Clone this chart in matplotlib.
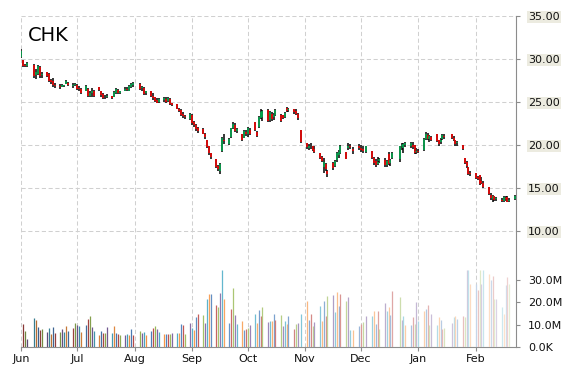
import matplotlib
matplotlib.use('Agg')
import matplotlib.pyplot as plt
import matplotlib.dates as mdates
from matplotlib.colors import to_rgb
import numpy as np
import pandas as pd

symbol = 'CHK'

# trading days without a record in the source data
missing_days = ['2015-06-05', '2015-08-03', '2015-10-29', '2015-11-26',
                '2015-12-03', '2015-12-21', '2016-01-18']

# one row per week
opens = [
    30.2, 29.8, 29.3, 29.1,
    29.3, 28.1, 28.2, 29.0, 28.1,
    28.5, 28.2, 27.5, 27.4, 26.9,
    26.8, 26.7, 26.8, 27.1, 27.2,
    26.8, 27.0, 27.0, 26.6, 26.5,
    26.3, 26.5, 25.7, 26.0, 26.3,
    26.7, 26.2, 25.9, 25.5, 25.6,
    25.7, 25.6, 26.0, 26.4, 26.0,
    26.3, 26.5, 26.3, 26.7, 27.0,
    27.1, 26.6, 26.6, 26.0,
    26.2, 25.7, 25.5, 25.2, 25.0,
    25.2, 25.3, 25.1, 25.3, 24.8,
    24.7, 24.2, 24.0, 23.6, 23.3,
    23.0, 23.5, 22.6, 22.3, 21.9,
    21.8, 21.3, 20.6, 19.8, 19.0,
    18.3, 17.5, 17.0, 19.3, 20.6,
    20.1, 20.9, 22.0, 22.3, 21.6,
    21.2, 20.8, 21.5, 21.3, 21.7,
    22.6, 21.5, 22.1, 23.1, 23.2,
    24.0, 22.9, 23.6, 23.2, 23.5,
    23.5, 23.5, 23.2, 24.3, 24.0,
    24.1, 23.9, 23.6, 21.7,
    20.2, 19.6, 19.9, 19.8, 19.5,
    19.0, 18.6, 17.4, 17.8, 17.0,
    17.9, 17.5, 18.2, 18.8, 19.1,
    19.2, 19.6, 19.9, 19.5,
    19.8, 19.6, 19.5, 19.2,
    19.3, 18.5, 18.1, 17.8, 18.1,
    18.2, 17.6, 18.9, 17.9, 18.5,
    18.4, 19.8, 19.6, 20.0,
    19.9, 20.0, 20.0, 19.2, 19.3,
    19.4, 20.7, 21.1, 20.7, 20.9,
    21.2, 20.5, 20.3, 20.7, 21.0,
    21.2, 20.8, 20.5, 20.2,
    20.0, 18.5, 18.0, 17.4, 16.7,
    16.7, 16.2, 16.5, 15.8, 15.6,
    15.1, 14.2, 13.7, 14.0, 13.7,
    13.6, 13.5, 13.8, 13.9, 13.5,
    13.7,
]
highs = [
    31.1, 29.9, 29.4, 29.6,
    29.4, 28.8, 29.3, 29.1, 28.4,
    28.5, 28.3, 27.7, 27.8, 27.2,
    27.1, 27.1, 27.0, 27.5, 27.3,
    27.2, 27.2, 27.1, 26.8, 26.6,
    26.9, 26.6, 26.2, 26.6, 26.4,
    26.7, 26.3, 26.0, 25.8, 25.9,
    25.7, 26.2, 26.6, 26.5, 26.3,
    26.7, 26.7, 26.9, 27.2, 27.3,
    27.2, 26.8, 26.7, 26.3,
    26.2, 26.0, 25.5, 25.4, 25.4,
    25.5, 25.5, 25.5, 25.4, 24.9,
    24.7, 24.3, 24.1, 23.8, 23.5,
    23.7, 23.6, 22.8, 22.4, 22.1,
    21.9, 21.4, 20.6, 19.9, 19.1,
    18.3, 17.7, 17.9, 20.9, 21.2,
    20.8, 22.0, 22.6, 22.5, 21.9,
    21.2, 21.7, 21.7, 22.1, 21.9,
    22.7, 21.6, 23.3, 24.1, 24.0,
    24.1, 23.9, 23.8, 23.7, 24.1,
    23.6, 23.5, 23.8, 24.4, 24.3,
    24.2, 24.1, 23.7, 21.7,
    20.2, 20.1, 20.2, 19.9, 19.8,
    19.0, 18.7, 18.5, 17.9, 17.1,
    18.0, 18.2, 19.2, 19.4, 20.0,
    19.2, 20.2, 20.1, 19.7,
    20.1, 20.0, 19.8, 19.9,
    19.3, 18.6, 18.3, 18.6, 18.5,
    18.5, 18.2, 19.2, 18.4, 19.2,
    19.9, 20.2, 20.2, 20.3,
    20.3, 20.3, 20.0, 19.6, 19.5,
    20.8, 21.5, 21.4, 21.1, 21.0,
    21.3, 20.6, 20.8, 21.2, 21.2,
    21.3, 21.0, 20.6, 20.4,
    20.0, 18.5, 18.1, 17.4, 16.9,
    16.7, 16.4, 16.5, 16.3, 15.8,
    15.1, 14.4, 14.2, 14.1, 13.9,
    13.8, 14.0, 14.0, 14.0, 13.8,
    14.2,
]
lows = [
    30.1, 29.0, 29.0, 29.0,
    27.8, 27.6, 28.1, 27.8, 27.8,
    27.9, 27.3, 27.1, 26.7, 26.6,
    26.5, 26.7, 26.7, 27.1, 26.8,
    26.6, 26.8, 26.4, 26.3, 25.9,
    26.2, 25.5, 25.5, 25.6, 25.6,
    26.3, 25.6, 25.3, 25.3, 25.4,
    25.3, 25.6, 25.9, 25.9, 25.9,
    26.2, 26.2, 26.2, 26.6, 26.7,
    26.4, 26.2, 25.8, 25.8,
    25.6, 25.2, 25.0, 24.8, 24.9,
    25.0, 24.9, 25.0, 24.6, 24.5,
    24.1, 23.8, 23.4, 23.1, 23.0,
    22.9, 22.3, 22.1, 21.6, 21.4,
    21.2, 20.7, 19.6, 18.8, 18.4,
    17.3, 17.0, 16.6, 19.2, 20.1,
    20.0, 20.8, 21.8, 21.5, 21.4,
    20.4, 20.8, 21.0, 20.9, 21.1,
    21.6, 20.9, 22.0, 23.0, 22.8,
    22.6, 22.7, 22.8, 22.9, 23.4,
    22.6, 23.0, 23.1, 23.8, 23.8,
    23.6, 23.5, 22.9, 20.2,
    19.5, 19.4, 19.5, 19.3, 19.0,
    18.4, 18.0, 16.7, 17.0, 16.3,
    17.1, 17.4, 18.0, 18.5, 18.9,
    18.3, 19.4, 19.5, 18.9,
    19.4, 19.2, 19.1, 19.1,
    18.4, 17.7, 17.4, 17.7, 17.9,
    17.4, 17.4, 17.6, 17.5, 18.4,
    18.0, 19.4, 19.1, 19.7,
    19.6, 19.5, 18.9, 18.9, 19.0,
    19.3, 20.5, 20.5, 20.3, 20.4,
    20.3, 19.9, 20.1, 20.6, 20.7,
    20.7, 20.4, 19.9, 19.9,
    19.4, 17.8, 17.3, 16.5, 16.4,
    16.0, 15.9, 15.3, 15.4, 15.0,
    14.2, 13.6, 13.4, 13.5, 13.5,
    13.4, 13.4, 13.5, 13.3, 13.3,
    13.6,
]
closes = [
    30.9, 29.2, 29.1, 29.5,
    28.0, 28.4, 29.1, 28.0, 28.2,
    28.0, 27.4, 27.3, 26.9, 26.8,
    26.7, 27.0, 26.9, 27.4, 26.9,
    27.0, 27.1, 26.5, 26.5, 26.0,
    26.8, 25.7, 26.0, 26.2, 25.7,
    26.4, 25.8, 25.4, 25.6, 25.7,
    25.4, 26.1, 26.5, 26.0, 26.2,
    26.5, 26.4, 26.8, 27.1, 27.2,
    26.5, 26.7, 25.9, 26.2,
    25.7, 25.4, 25.1, 24.9, 25.3,
    25.4, 25.0, 25.4, 24.7, 24.6,
    24.2, 23.9, 23.5, 23.3, 23.2,
    23.6, 22.5, 22.3, 21.8, 21.6,
    21.3, 20.9, 19.7, 19.0, 18.6,
    17.4, 17.2, 17.8, 20.8, 20.4,
    20.7, 21.9, 22.4, 21.6, 21.8,
    20.6, 21.6, 21.2, 21.9, 21.3,
    21.7, 21.0, 23.2, 23.8, 23.9,
    22.8, 23.8, 23.0, 23.5, 24.0,
    22.8, 23.1, 23.7, 23.9, 24.1,
    23.8, 23.6, 23.1, 20.3,
    19.7, 19.9, 19.8, 19.4, 19.2,
    18.5, 18.1, 18.0, 17.2, 16.6,
    17.3, 18.1, 19.0, 19.2, 19.9,
    18.4, 19.9, 19.7, 19.3,
    19.6, 19.4, 19.3, 19.8,
    18.5, 17.9, 17.6, 18.0, 18.3,
    17.6, 18.1, 17.8, 18.2, 19.1,
    19.8, 20.0, 20.1, 20.2,
    20.2, 19.7, 19.1, 19.3, 19.2,
    20.7, 21.2, 20.7, 21.0, 20.6,
    20.4, 20.1, 20.6, 21.1, 20.9,
    20.8, 20.6, 20.1, 20.3,
    19.5, 17.9, 17.5, 16.6, 16.6,
    16.1, 16.0, 15.4, 15.6, 15.1,
    14.3, 13.8, 14.1, 13.6, 13.8,
    13.5, 13.9, 13.7, 13.4, 13.6,
    14.1,
]
# millions of shares
volumes = [
    0.0, 10.2, 7.1, 3.6,
    12.9, 12.0, 8.9, 7.6, 8.0,
    6.7, 8.4, 5.8, 8.9, 6.2,
    6.7, 8.0, 6.7, 9.3, 7.1,
    8.4, 10.7, 9.8, 9.3, 6.7,
    9.8, 12.4, 13.8, 8.9, 7.1,
    5.3, 7.1, 6.2, 6.2, 8.9,
    6.2, 9.3, 6.2, 5.8, 5.3,
    5.3, 5.8, 5.3, 8.0, 5.3,
    7.1, 6.2, 6.7, 5.3,
    7.1, 8.4, 9.3, 8.0, 6.7,
    5.8, 5.8, 5.8, 5.8, 6.2,
    6.2, 6.2, 10.2, 9.8, 5.8,
    10.7, 8.4, 7.6, 13.5, 14.7,
    14.2, 10.8, 21.3, 23.6, 23.6,
    18.7, 17.8, 24.0, 34.2, 21.3,
    10.7, 16.9, 26.2, 14.2, 10.2,
    11.6, 7.6, 8.0, 8.4, 9.8,
    14.7, 10.7, 16.4, 13.8, 17.8,
    11.1, 11.6, 11.6, 14.7, 12.0,
    14.2, 9.3, 11.6, 10.2, 13.8,
    8.2, 10.2, 10.7, 14.7,
    20.4, 12.0, 14.7, 9.3, 11.1,
    18.2, 11.6, 20.4, 13.8, 22.7,
    23.1, 15.6, 24.4, 18.2, 23.6,
    20.4, 22.2, 7.6, 7.6,
    9.3, 10.2, 11.1, 13.8,
    13.8, 16.0, 10.2, 16.0, 8.0,
    19.6, 16.0, 17.8, 14.2, 24.9,
    22.2, 12.0, 13.8, 9.8,
    9.8, 13.3, 10.2, 20.0, 11.6,
    16.0, 16.9, 18.7, 9.8, 14.7,
    9.8, 13.3, 12.0, 8.0, 8.4,
    10.7, 13.3, 13.8, 12.4,
    13.8, 13.3, 34.2, 34.2, 28.0,
    28.0, 25.3, 34.2, 28.0, 34.2,
    32.4, 29.8, 31.6, 21.3, 21.3,
    17.8, 14.7, 27.6, 31.1, 28.0,
    0.0,
]

price_ticks = [10, 15, 20, 25, 30, 35]
volume_ticks = [0, 10, 20, 30]
volume_labels = ['0.0K', '10.0M', '20.0M', '30.0M']
month_ticks = pd.date_range('2015-06-01', '2016-02-01', freq='MS')

palette = ['#4F81BD', '#C0504D', '#9BBB59', '#8064A2', '#4BACC6', '#F79646']
up_color = '#00b050'
down_color = '#ff0000'
axis_gray = '#8c8c8c'


def shade(color, f):
    """Darken (f < 0) or wash out towards white (f > 0)."""
    c = np.array(to_rgb(color))
    if f < 0:
        return tuple(c * (1 + f))
    return tuple(c + (1 - c) * f)


def main():
    dates = pd.bdate_range('2015-06-01', '2016-02-22').drop(pd.to_datetime(missing_days))
    o, h, l, c = (np.array(a) for a in (opens, highs, lows, closes))
    vol = np.array(volumes)
    x = mdates.date2num(dates)

    fig = plt.figure(figsize=(5.7, 3.7), dpi=100)
    ax = fig.add_axes([20.6 / 570, 1 - 347 / 370, 495.3 / 570, 331.3 / 370])

    # volume on its own scale in the same plot area
    vax = ax.twinx()
    n = len(vol)
    vol_colors = [shade(palette[i % len(palette)], -0.3 + 1.05 * i / (n - 1)) for i in range(n)]
    vax.vlines(x, 0, vol, colors=vol_colors, lw=0.9)
    vax.set_ylim(0, 147.4)
    vax.set_yticks(volume_ticks)
    vax.set_yticklabels(volume_labels)
    for side in vax.spines:
        vax.spines[side].set_visible(False)
    vax.tick_params(axis='y', length=3.1, width=0.8, color=axis_gray, pad=5.5,
                    labelsize=8, labelcolor='#111111')

    # candles: black high-low line, coloured open-close body on top
    ax.vlines(x, l, h, color='black', lw=1.1, zorder=3)
    body_colors = [up_color if cc >= oo else down_color for oo, cc in zip(o, c)]
    ax.vlines(x, np.minimum(o, c), np.maximum(o, c), colors=body_colors, lw=1.1, zorder=4)

    x0 = mdates.date2num(pd.Timestamp('2015-06-01'))
    ax.set_xlim(x0 - 0.4, x0 + 266.6)
    ax.set_ylim(-3.5, 35)

    ax.set_xticks(mdates.date2num(month_ticks))
    ax.xaxis.set_major_formatter(mdates.DateFormatter('%b'))
    # twinx() moved the price ticks to the left; put them back on the right
    ax.yaxis.tick_right()
    ax.set_yticks(price_ticks)
    ax.set_yticklabels([f'{v:.2f}' for v in price_ticks])
    for lbl in ax.get_yticklabels():
        lbl.set_bbox(dict(facecolor='#ecebe0', edgecolor='none', pad=1.0))

    ax.set_axisbelow(True)
    ax.grid(True, color='#d0d0d0', lw=0.75, ls=(0, (4, 2.5)))
    for side in ('top', 'left'):
        ax.spines[side].set_visible(False)
    for side in ('right', 'bottom'):
        ax.spines[side].set_color(axis_gray)
    ax.tick_params(axis='y', length=3.1, width=0.8, color=axis_gray, pad=5.5,
                   labelsize=8, labelcolor='#111111')
    ax.tick_params(axis='x', length=3, width=0.8, color=axis_gray, pad=2,
                   labelsize=8, labelcolor='#111111')

    fig.text(28 / 570, 1 - 41 / 370, symbol, fontsize=14, va='baseline', ha='left')

    fig.savefig('out.png', dpi=100)


if __name__ == '__main__':
    main()
